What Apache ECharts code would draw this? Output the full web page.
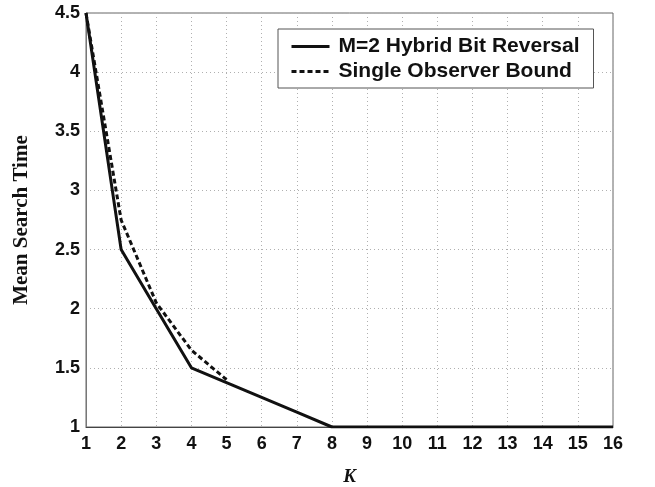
<!DOCTYPE html>
<html>
<head>
<meta charset="utf-8">
<script src="https://cdn.jsdelivr.net/npm/echarts@6/dist/echarts.min.js"></script>
<style>html,body{margin:0;padding:0;background:#fff;}#c{width:655px;height:487px;}</style>
</head>
<body>
<div id="c"></div>
<script>
var K = [1, 2, 3, 4, 5, 6, 7, 8, 9, 10, 11, 12, 13, 14, 15, 16];
var hybrid = [4.5, 2.5, 2.0, 1.5, 1.375, 1.25, 1.125, 1.0, 1.0, 1.0, 1.0, 1.0, 1.0, 1.0, 1.0, 1.0];
var bound = [4.5, 2.75, 2.05, 1.65, 1.4];
var seriesNames = ['M=2 Hybrid Bit Reversal', 'Single Observer Bound'];

function pairs(xs, ys) { return ys.map(function (y, i) { return [xs[i], y]; }); }

var chart = echarts.init(document.getElementById('c'), null, {renderer: 'canvas'});
var grid = {color: '#b0b0b0', type: [1, 3], width: 1};
chart.setOption({
  animation: false,
  backgroundColor: '#fff',
  grid: {left: 86, right: 42, top: 13, bottom: 60, show: true, borderColor: '#666', borderWidth: 1,
         containLabel: false, outerBoundsMode: 'none'},
  legend: {
    left: 278, top: 29, width: 320,
    orient: 'vertical',
    padding: [7, 14, 6, 12],
    itemGap: 4,
    itemWidth: 38, itemHeight: 14,
    borderColor: '#555', borderWidth: 1,
    backgroundColor: '#fff',
    itemStyle: {opacity: 0},
    lineStyle: {width: 3},
    textStyle: {fontFamily: 'Liberation Sans', fontSize: 21, fontWeight: 'bold', color: '#111', padding: [0, 0, 0, 4]},
    data: seriesNames
  },
  xAxis: {
    type: 'value', min: 1, max: 16, interval: 1,
    name: 'K', nameLocation: 'middle', nameGap: 41,
    nameTextStyle: {fontFamily: 'Liberation Serif', fontStyle: 'italic', fontWeight: 'bold', fontSize: 19, color: '#111'},
    axisLine: {lineStyle: {color: '#444', width: 1}},
    axisTick: {show: false},
    axisLabel: {fontFamily: 'Liberation Sans', fontWeight: 'bold', fontSize: 18, color: '#111', margin: 8},
    splitLine: {show: true, lineStyle: grid}
  },
  yAxis: {
    type: 'value', min: 1, max: 4.5, interval: 0.5,
    name: 'Mean Search Time', nameLocation: 'middle', nameGap: 54,
    nameTextStyle: {fontFamily: 'Liberation Serif', fontWeight: 'bold', fontSize: 21, color: '#111'},
    axisLine: {show: true, lineStyle: {color: '#777', width: 1}},
    axisTick: {show: false},
    axisLabel: {fontFamily: 'Liberation Sans', fontWeight: 'bold', fontSize: 18, color: '#111', margin: 6},
    splitLine: {show: true, lineStyle: grid}
  },
  series: [
    {
      name: seriesNames[1], type: 'line', data: pairs(K, bound),
      symbol: 'none', z: 2,
      lineStyle: {color: '#111', width: 3, type: [5, 3]},
      itemStyle: {color: '#111'}
    },
    {
      name: seriesNames[0], type: 'line', data: pairs(K, hybrid),
      symbol: 'none', z: 3,
      lineStyle: {color: '#111', width: 3, type: 'solid'},
      itemStyle: {color: '#111'}
    }
  ]
});
</script>
</body>
</html>
